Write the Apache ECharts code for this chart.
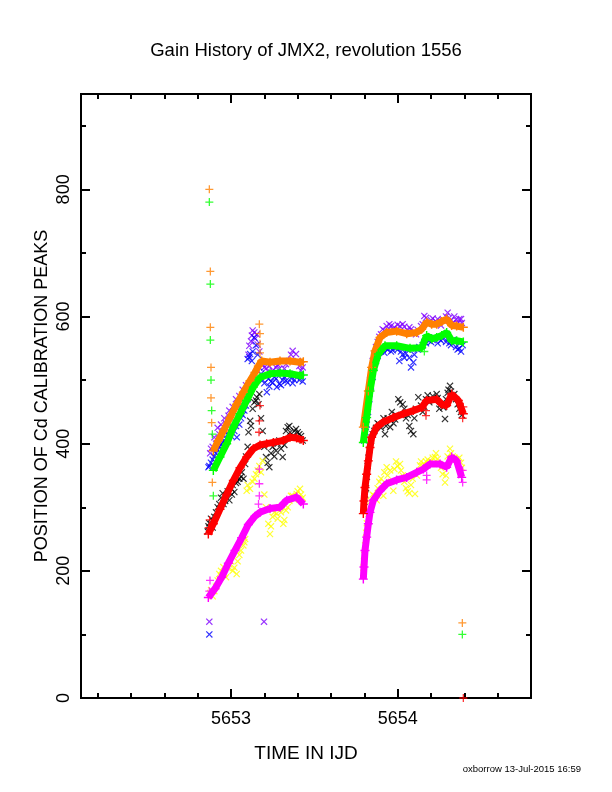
<!DOCTYPE html>
<html lang="en">
  <head>
    <meta charset="utf-8" />
    <title>Gain History of JMX2</title>
    <script src="https://cdn.jsdelivr.net/npm/echarts@6/dist/echarts.min.js"></script>
    <style>
      html, body { margin: 0; padding: 0; background: #fff; }
      #main { width: 612px; height: 792px; }
    </style>
  </head>
  <body>
    <div id="main"></div>
    <script type="text/javascript">
      // axis ticks
      const xMinorTicks = [5652.2, 5652.4, 5652.6, 5652.8, 5653.2, 5653.4, 5653.6, 5653.8, 5654.2, 5654.4, 5654.6];
      const xMajorTicks = [5653, 5654];
      const yMinorTicks = [100, 300, 500, 700, 900];
      const yMajorTicks = [0, 200, 400, 600, 800];

      // "+" tracks, first and second pass
      const orangeA = [[5652.894,389],[5652.924,405],[5652.954,420],[5652.994,441],[5653.034,462],[5653.074,481],[5653.114,499],[5653.144,512],[5653.164,522],[5653.184,530],[5653.234,528],[5653.294,530],[5653.354,530],[5653.414,528],[5653.434,529]];
      const greenA = [[5652.894,358],[5652.934,379],[5652.974,400],[5653.014,426],[5653.054,447],[5653.094,468],[5653.134,489],[5653.174,504],[5653.234,510],[5653.294,511],[5653.354,510],[5653.414,507],[5653.434,508]];
      const redA = [[5652.864,258],[5652.894,274],[5652.934,297],[5652.974,320],[5653.014,342],[5653.054,362],[5653.094,379],[5653.134,392],[5653.174,398],[5653.214,400],[5653.254,402],[5653.314,405],[5653.354,410],[5653.394,409],[5653.434,405]];
      const magentaA = [[5652.864,158],[5652.904,172],[5652.944,190],[5652.984,212],[5653.024,232],[5653.064,252],[5653.104,273],[5653.144,286],[5653.174,292],[5653.234,298],[5653.294,300],[5653.334,311],[5653.394,316],[5653.434,305]];

      const orangeB = [[5653.794,426],[5653.824,483],[5653.844,520],[5653.864,546],[5653.894,567],[5653.934,575],[5653.994,577],[5654.054,573],[5654.114,575],[5654.144,580],[5654.174,591],[5654.204,588],[5654.234,588],[5654.264,592],[5654.294,596],[5654.324,586],[5654.354,585],[5654.394,583]];
      const greenB = [[5653.794,402],[5653.814,441],[5653.834,483],[5653.854,515],[5653.884,541],[5653.924,554],[5653.994,554],[5654.074,550],[5654.144,551],[5654.174,570],[5654.204,565],[5654.234,567],[5654.264,570],[5654.294,575],[5654.324,562],[5654.354,562],[5654.394,560]];
      const redB = [[5653.794,290],[5653.798,310],[5653.804,331],[5653.814,352],[5653.824,373],[5653.834,394],[5653.844,410],[5653.874,426],[5653.914,434],[5653.974,441],[5654.034,447],[5654.094,452],[5654.144,457],[5654.174,468],[5654.234,470],[5654.264,462],[5654.294,460],[5654.324,478],[5654.364,468],[5654.394,447]];
      const magentaB = [[5653.794,187],[5653.798,206],[5653.804,232],[5653.814,253],[5653.824,274],[5653.834,292],[5653.854,311],[5653.894,326],[5653.934,337],[5653.994,343],[5654.054,347],[5654.114,355],[5654.154,360],[5654.194,368],[5654.254,368],[5654.294,363],[5654.324,379],[5654.354,373],[5654.384,347]];

      // loose "+" points
      const orangeLoose = [[5652.870,800],[5652.876,671],[5652.876,583],[5652.880,520],[5652.880,472],[5652.884,433],[5652.888,339],[5653.170,588],[5653.174,573],[5653.174,557],[5653.174,543],[5654.388,118]];
      const greenLoose = [[5652.870,780],[5652.876,651],[5652.876,563],[5652.880,500],[5652.884,452],[5652.888,415],[5652.894,318],[5654.160,545],[5654.388,100]];
      const redLoose = [[5652.866,268],[5652.872,280],[5653.174,460],[5653.170,436],[5653.168,418],[5654.170,452],[5654.170,444],[5654.394,458],[5654.390,440],[5654.394,0]];
      const magentaLoose = [[5652.870,168],[5652.874,185],[5653.170,360],[5653.170,337],[5653.170,318],[5653.165,305],[5654.174,350],[5654.174,343],[5654.390,358],[5654.390,339]];

      // "x" points
      const purplePts = [[5652.870,120],[5653.198,120],
        [5652.875,385],[5652.880,392],[5652.890,395],[5652.900,410],[5652.910,400],[5652.920,425],[5652.930,415],[5652.940,430],[5652.950,420],[5652.960,440],[5652.970,432],[5652.985,444],[5652.990,452],[5653.000,440],[5653.010,458],[5653.020,450],[5653.030,470],[5653.040,455],[5653.050,475],[5653.060,462],[5653.070,485],[5653.080,465],[5653.090,492],[5653.100,470],[5653.105,540],[5653.110,554],[5653.120,561],[5653.125,570],[5653.130,578],[5653.140,575],[5653.145,565],[5653.155,572],[5653.160,556],[5653.170,545],[5653.190,525],[5653.200,520],[5653.210,518],[5653.230,522],[5653.240,512],[5653.250,515],[5653.270,520],[5653.280,524],[5653.290,518],[5653.310,512],[5653.320,518],[5653.330,525],[5653.350,530],[5653.360,540],[5653.370,546],[5653.390,541],[5653.400,530],[5653.410,522],[5653.420,515],[5653.430,520],
        [5653.800,420],[5653.805,435],[5653.810,445],[5653.820,468],[5653.830,480],[5653.835,500],[5653.845,515],[5653.850,530],[5653.860,540],[5653.870,552],[5653.880,560],[5653.890,568],[5653.900,572],[5653.910,580],[5653.920,578],[5653.934,585],[5653.950,588],[5653.960,585],[5653.970,580],[5653.980,583],[5654.000,587],[5654.014,585],[5654.030,588],[5654.040,584],[5654.060,578],[5654.070,583],[5654.080,580],[5654.100,576],[5654.110,572],[5654.120,579],[5654.140,585],[5654.150,588],[5654.160,601],[5654.170,598],[5654.190,590],[5654.200,594],[5654.210,597],[5654.230,592],[5654.240,596],[5654.250,590],[5654.260,586],[5654.270,594],[5654.290,600],[5654.300,606],[5654.310,598],[5654.320,594],[5654.330,590],[5654.340,600],[5654.350,595],[5654.360,589],[5654.370,596],[5654.380,596],[5654.385,590]];
      const bluePts = [[5652.870,100],
        [5652.865,363],[5652.870,365],[5652.880,370],[5652.890,375],[5652.900,380],[5652.910,385],[5652.920,390],[5652.930,395],[5652.940,398],[5652.950,402],[5652.960,405],[5652.970,408],[5652.980,415],[5652.990,420],[5653.000,412],[5653.010,426],[5653.020,420],[5653.030,428],[5653.035,410],[5653.050,430],[5653.060,440],[5653.070,445],[5653.080,452],[5653.090,460],[5653.095,470],[5653.100,533],[5653.110,536],[5653.115,541],[5653.125,530],[5653.130,545],[5653.140,567],[5653.150,555],[5653.160,540],[5653.170,520],[5653.180,510],[5653.190,500],[5653.200,495],[5653.215,481],[5653.225,502],[5653.230,490],[5653.240,498],[5653.250,496],[5653.260,505],[5653.270,502],[5653.275,489],[5653.290,494],[5653.300,492],[5653.310,500],[5653.320,505],[5653.330,499],[5653.340,496],[5653.350,510],[5653.360,503],[5653.370,495],[5653.380,500],[5653.390,507],[5653.410,500],[5653.420,504],[5653.430,498],
        [5653.800,405],[5653.808,418],[5653.815,430],[5653.822,450],[5653.830,470],[5653.840,490],[5653.850,505],[5653.860,520],[5653.870,530],[5653.880,538],[5653.890,545],[5653.900,545],[5653.910,548],[5653.920,543],[5653.930,550],[5653.940,548],[5653.950,553],[5653.960,545],[5653.970,547],[5653.980,552],[5653.990,550],[5654.000,548],[5654.010,530],[5654.020,545],[5654.030,540],[5654.040,535],[5654.050,542],[5654.060,548],[5654.070,535],[5654.080,520],[5654.094,528],[5654.100,540],[5654.110,550],[5654.120,548],[5654.130,552],[5654.150,555],[5654.160,560],[5654.170,558],[5654.180,565],[5654.190,562],[5654.200,560],[5654.210,563],[5654.220,567],[5654.240,558],[5654.250,565],[5654.260,562],[5654.270,568],[5654.280,570],[5654.290,560],[5654.300,565],[5654.310,558],[5654.320,555],[5654.330,563],[5654.340,560],[5654.350,552],[5654.360,548],[5654.370,550],[5654.380,545],[5654.390,555]];
      const blackPts = [[5652.860,262],[5652.865,270],[5652.870,275],[5652.880,282],[5652.890,268],[5652.895,278],[5652.900,285],[5652.910,292],[5652.920,300],[5652.930,305],[5652.940,315],[5652.950,322],[5652.955,305],[5652.965,310],[5652.970,318],[5652.980,325],[5652.990,311],[5653.000,330],[5653.005,320],[5653.010,335],[5653.020,324],[5653.030,338],[5653.040,340],[5653.050,345],[5653.060,348],[5653.065,355],[5653.075,345],[5653.085,368],[5653.090,380],[5653.100,395],[5653.105,418],[5653.115,436],[5653.120,428],[5653.130,455],[5653.140,465],[5653.150,468],[5653.155,473],[5653.165,462],[5653.170,478],[5653.180,440],[5653.190,420],[5653.200,395],[5653.210,379],[5653.220,370],[5653.230,363],[5653.240,385],[5653.250,395],[5653.260,380],[5653.270,389],[5653.280,400],[5653.290,405],[5653.300,392],[5653.310,379],[5653.320,398],[5653.330,420],[5653.340,426],[5653.350,428],[5653.355,418],[5653.370,412],[5653.380,420],[5653.390,423],[5653.400,418],[5653.410,415],[5653.420,412],[5653.430,405],
        [5653.800,300],[5653.805,320],[5653.810,330],[5653.815,348],[5653.820,365],[5653.825,378],[5653.830,390],[5653.840,405],[5653.850,415],[5653.860,420],[5653.870,425],[5653.880,432],[5653.890,430],[5653.900,425],[5653.915,440],[5653.924,415],[5653.930,428],[5653.940,440],[5653.955,426],[5653.965,450],[5653.975,432],[5653.985,438],[5653.990,445],[5654.004,470],[5654.015,465],[5654.030,462],[5654.040,455],[5654.050,440],[5654.060,445],[5654.070,428],[5654.080,420],[5654.094,415],[5654.100,440],[5654.110,455],[5654.124,473],[5654.140,460],[5654.150,450],[5654.160,458],[5654.170,470],[5654.180,476],[5654.190,465],[5654.200,470],[5654.210,475],[5654.220,468],[5654.234,478],[5654.240,472],[5654.250,455],[5654.260,462],[5654.274,457],[5654.284,439],[5654.290,470],[5654.300,480],[5654.305,485],[5654.314,491],[5654.320,482],[5654.330,475],[5654.340,478],[5654.350,470],[5654.360,462],[5654.370,455],[5654.380,450],[5654.385,445]];
      const yellowPts = [[5652.875,165],[5652.880,170],[5652.890,160],[5652.900,168],[5652.910,175],[5652.920,185],[5652.930,195],[5652.940,200],[5652.954,206],[5652.960,195],[5652.970,190],[5652.980,205],[5652.990,210],[5653.000,215],[5653.010,200],[5653.020,205],[5653.034,195],[5653.040,215],[5653.050,225],[5653.060,232],[5653.074,240],[5653.080,245],[5653.085,250],[5653.094,326],[5653.100,335],[5653.114,329],[5653.130,340],[5653.140,345],[5653.150,352],[5653.160,358],[5653.170,365],[5653.180,355],[5653.190,373],[5653.200,320],[5653.210,300],[5653.224,274],[5653.234,258],[5653.240,270],[5653.250,285],[5653.260,292],[5653.274,290],[5653.280,282],[5653.290,300],[5653.300,292],[5653.314,274],[5653.320,280],[5653.330,295],[5653.340,300],[5653.350,310],[5653.360,318],[5653.370,318],[5653.380,312],[5653.394,321],[5653.400,325],[5653.414,329],[5653.420,320],[5653.430,315],
        [5653.795,205],[5653.798,215],[5653.800,225],[5653.805,240],[5653.810,260],[5653.815,275],[5653.825,290],[5653.830,295],[5653.840,310],[5653.850,320],[5653.860,318],[5653.874,311],[5653.880,330],[5653.890,340],[5653.900,345],[5653.914,318],[5653.920,355],[5653.934,363],[5653.940,350],[5653.955,358],[5653.960,340],[5653.974,326],[5653.980,360],[5653.990,372],[5654.000,365],[5654.014,368],[5654.020,358],[5654.030,350],[5654.040,340],[5654.050,330],[5654.060,325],[5654.070,322],[5654.080,335],[5654.090,345],[5654.104,321],[5654.115,350],[5654.134,366],[5654.140,372],[5654.150,365],[5654.160,368],[5654.170,372],[5654.180,375],[5654.190,370],[5654.200,372],[5654.210,378],[5654.224,379],[5654.230,385],[5654.240,376],[5654.250,368],[5654.260,362],[5654.270,352],[5654.284,339],[5654.290,350],[5654.300,380],[5654.314,392],[5654.320,385],[5654.330,380],[5654.340,378],[5654.350,375],[5654.360,372],[5654.370,378],[5654.380,370],[5654.385,362]];

      const colors = {
        orange: '#ff8000', green: '#00ff00', red: '#ff0000', magenta: '#ff00ff',
        purple: '#8000ff', blue: '#0000ff', black: '#000000', yellow: '#ffff00'
      };
      const PLUS = 'path://M4.2,0H5.8V4.2H10V5.8H5.8V10H4.2V5.8H0V4.2H4.2Z';
      const CROSS = 'path://M0,1.2L1.2,0L5,3.8L8.8,0L10,1.2L6.2,5L10,8.8L8.8,10L5,6.2L1.2,10L0,8.8L3.8,5Z';
      const FONT = 'Liberation Sans';

      const band = (data, color) => ({
        type: 'line', data: data, symbol: PLUS, symbolSize: 9, showSymbol: true,
        lineStyle: { color: color, width: 7 }, itemStyle: { color: color },
        silent: true, z: 3
      });
      const dots = (data, color, sym, size) => ({
        type: 'scatter', data: data, symbol: sym, symbolSize: size,
        itemStyle: { color: color }, silent: true, z: 2
      });

      const xBase = {
        type: 'value', min: 5652.1, max: 5654.8, splitLine: { show: false },
        axisLine: { show: true, onZero: false, lineStyle: { color: '#000', width: 2 } }
      };
      const yBase = {
        type: 'value', min: 0, max: 950, splitLine: { show: false },
        axisLine: { show: true, onZero: false, lineStyle: { color: '#000', width: 2 } }
      };
      const tick = (vals, len) => ({ show: true, inside: true, length: len, customValues: vals, lineStyle: { color: '#000', width: 2 } });

      const myChart = echarts.init(document.getElementById('main'));
      const option = {
        animation: false,
        backgroundColor: '#fff',
        title: [
          { text: 'Gain History of JMX2, revolution 1556', left: 'center', top: 36,
            textStyle: { fontFamily: FONT, fontSize: 18.5, fontWeight: 'normal', color: '#000' } },
          { text: 'oxborrow 13-Jul-2015 16:59', right: 26, top: 759,
            textStyle: { fontFamily: FONT, fontSize: 9.5, fontWeight: 'normal', color: '#000' } }
        ],
        grid: { left: 81, right: 81, top: 94, bottom: 94 },
        xAxis: [
          Object.assign({}, xBase, {
            position: 'bottom', axisTick: tick(xMinorTicks, 5),
            axisLabel: { customValues: xMajorTicks, formatter: v => String(v), fontFamily: FONT, fontSize: 18, color: '#000', margin: 12 },
            name: 'TIME IN IJD', nameLocation: 'middle', nameGap: 46,
            nameTextStyle: { fontFamily: FONT, fontSize: 19, color: '#000' }
          }),
          Object.assign({}, xBase, { position: 'bottom', axisTick: tick(xMajorTicks, 9), axisLabel: { show: false } }),
          Object.assign({}, xBase, { position: 'top', axisTick: tick(xMinorTicks, 5), axisLabel: { show: false } }),
          Object.assign({}, xBase, { position: 'top', axisTick: tick(xMajorTicks, 9), axisLabel: { show: false } })
        ],
        yAxis: [
          Object.assign({}, yBase, {
            position: 'left', axisTick: tick(yMinorTicks, 5),
            axisLabel: { customValues: yMajorTicks, rotate: 90, fontFamily: FONT, fontSize: 18, color: '#000', margin: 8 },
            name: 'POSITION OF Cd CALIBRATION PEAKS', nameLocation: 'middle', nameGap: 30, nameMoveOverlap: false,
            nameTextStyle: { fontFamily: FONT, fontSize: 18, color: '#000' }
          }),
          Object.assign({}, yBase, { position: 'left', axisTick: tick(yMajorTicks, 9), axisLabel: { show: false } }),
          Object.assign({}, yBase, { position: 'right', axisTick: tick(yMinorTicks, 5), axisLabel: { show: false } }),
          Object.assign({}, yBase, { position: 'right', axisTick: tick(yMajorTicks, 9), axisLabel: { show: false } })
        ],
        series: [
          dots(purplePts, colors.purple, CROSS, 7),
          dots(bluePts, colors.blue, CROSS, 7),
          dots(blackPts, colors.black, CROSS, 7),
          dots(yellowPts, colors.yellow, CROSS, 7),
          band(orangeA, colors.orange), band(orangeB, colors.orange),
          band(greenA, colors.green), band(greenB, colors.green),
          band(redA, colors.red), band(redB, colors.red),
          band(magentaA, colors.magenta), band(magentaB, colors.magenta),
          dots(orangeLoose, colors.orange, PLUS, 8),
          dots(greenLoose, colors.green, PLUS, 8),
          dots(redLoose, colors.red, PLUS, 8),
          dots(magentaLoose, colors.magenta, PLUS, 8)
        ]
      };
      myChart.setOption(option);
    </script>
  </body>
</html>
